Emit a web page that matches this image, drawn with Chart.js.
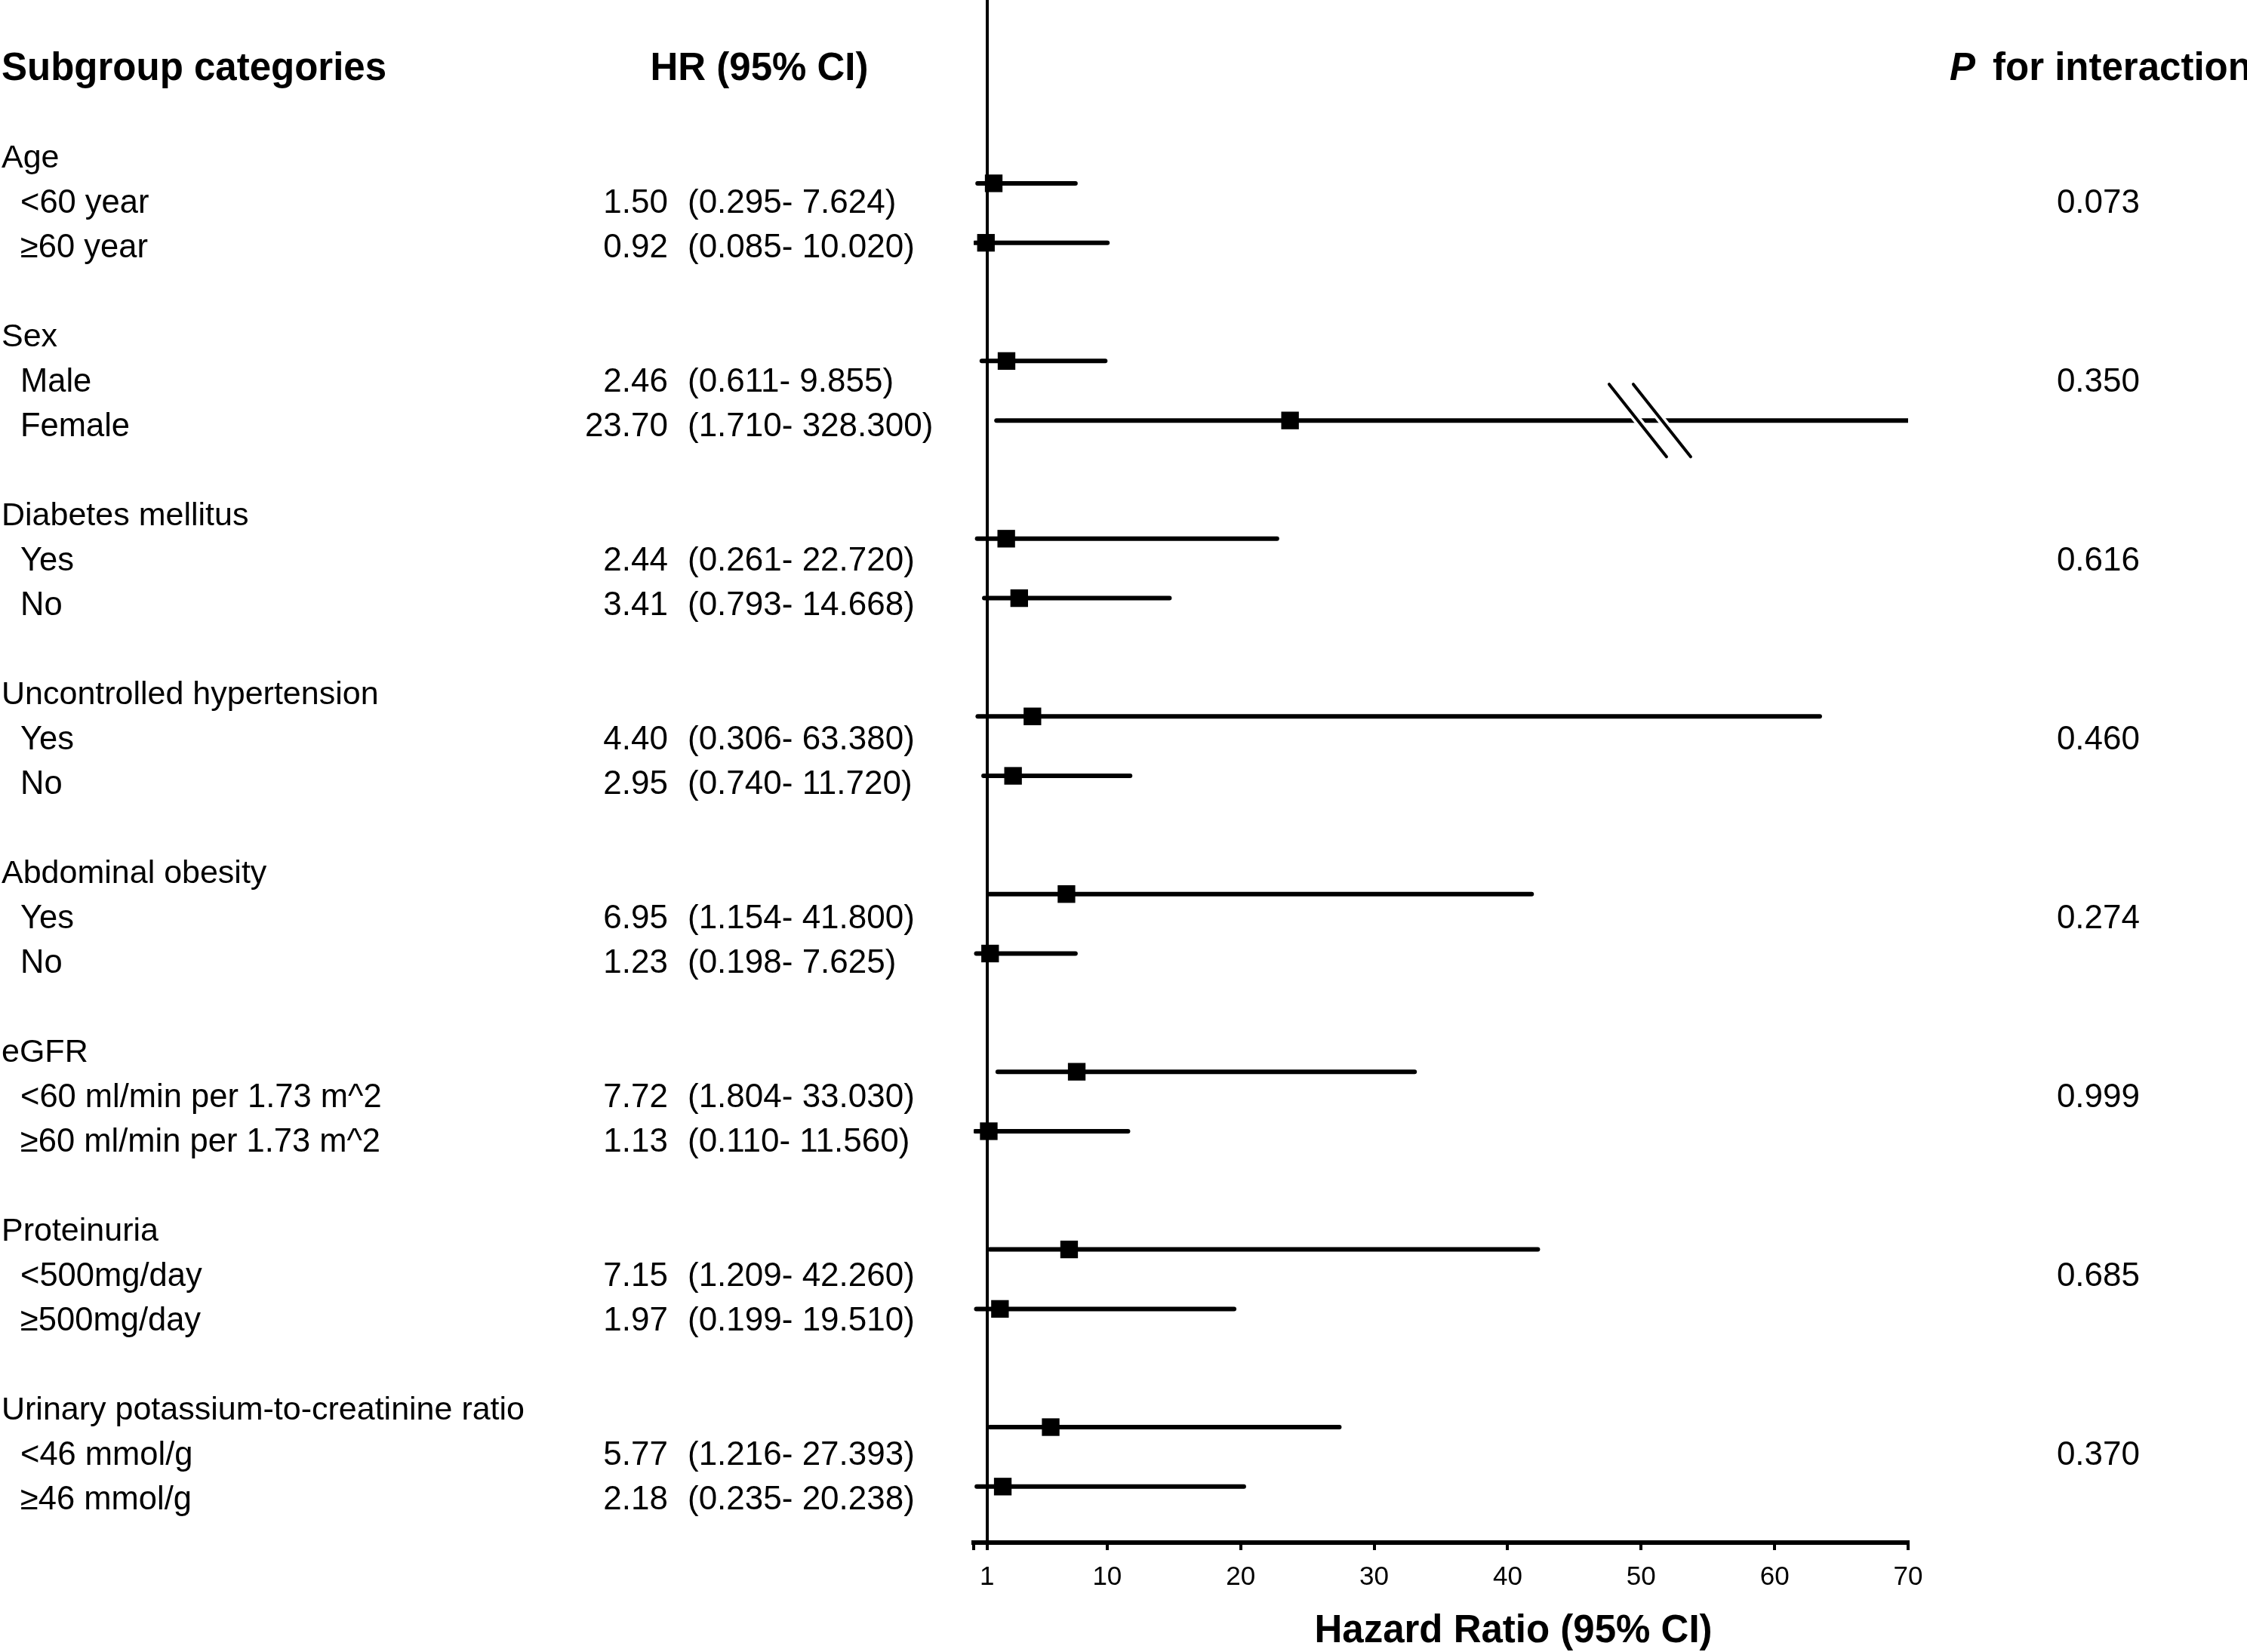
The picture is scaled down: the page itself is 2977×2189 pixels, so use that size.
<!DOCTYPE html>
<html>
<head>
<meta charset="utf-8">
<script src="https://cdn.jsdelivr.net/npm/chart.js@4.4.0/dist/chart.umd.min.js"></script>
<style>
  html, body { margin: 0; padding: 0; background: #fff; }
  #wrap { position: relative; width: 2977px; height: 2189px; }
</style>
</head>
<body>
<div id="wrap"><canvas id="forest"></canvas></div>
<script>
// data
const groups = ['Age', 'Sex', 'Diabetes mellitus', 'Uncontrolled hypertension', 'Abdominal obesity', 'eGFR', 'Proteinuria', 'Urinary potassium-to-creatinine ratio'];
const subLabels = ['<60 year', '≥60 year', 'Male', 'Female', 'Yes', 'No', 'Yes', 'No', 'Yes', 'No',
  '<60 ml/min per 1.73 m^2', '≥60 ml/min per 1.73 m^2', '<500mg/day', '≥500mg/day', '<46 mmol/g', '≥46 mmol/g'];
const hr = [1.50, 0.92, 2.46, 23.70, 2.44, 3.41, 4.40, 2.95, 6.95, 1.23, 7.72, 1.13, 7.15, 1.97, 5.77, 2.18];
const ciLow = [0.295, 0.085, 0.611, 1.710, 0.261, 0.793, 0.306, 0.740, 1.154, 0.198, 1.804, 0.110, 1.209, 0.199, 1.216, 0.235];
const ciHigh = [7.624, 10.020, 9.855, 328.300, 22.720, 14.668, 63.380, 11.720, 41.800, 7.625, 33.030, 11.560, 42.260, 19.510, 27.393, 20.238];
const pInteraction = ['0.073', '0.350', '0.616', '0.460', '0.274', '0.999', '0.685', '0.370'];
const xTicks = [0, 1, 10, 20, 30, 40, 50, 60, 70];

const xMax = 70;
const FONT = '"Liberation Sans", Arial, sans-serif';
const TEXT_DY = 3; // small nudge so text sits like the original

// row index of each subgroup (text rows) and of its marker (markers sit a bit higher)
function textRow(i) { return Math.floor(i / 2) * 4 + 1 + (i % 2); }
function markRow(i) { return Math.floor(i / 2) * 3.974 + (i % 2 == 0 ? 0.6 : 1.93); }

const datasets = [];
datasets.push({
  type: 'scatter',
  label: 'HR',
  data: hr.map((v, i) => ({ x: v, y: markRow(i) })),
  pointStyle: 'rect',
  pointRadius: 16.5,
  pointHoverRadius: 16.5,
  backgroundColor: '#000',
  borderColor: '#000',
  borderWidth: 0,
  order: 0
});
hr.forEach((v, i) => {
  datasets.push({
    type: 'line',
    label: 'CI ' + i,
    data: [{ x: ciLow[i], y: markRow(i) }, { x: Math.min(ciHigh[i], xMax), y: markRow(i) }],
    borderColor: '#000',
    borderWidth: 6,
    borderCapStyle: 'round',
    pointRadius: 0,
    fill: false,
    order: 1
  });
});

// texts of the table + axis title + break marks
const tablePlugin = {
  id: 'tablePlugin',
  afterDatasetsDraw(chart) {
    const ctx = chart.ctx;
    const xs = chart.scales.x, ys = chart.scales.y;
    // break on the Female CI (upper limit goes past 70)
    ciHigh.forEach((h, i) => {
      if (h <= xMax) return;
      const yc = ys.getPixelForValue(markRow(i));
      const xc = xs.getPixelForValue(50.66);
      [-16, 16].forEach(off => {
        ctx.save();
        ctx.lineCap = 'round';
        ctx.beginPath();
        ctx.moveTo(xc + off - 38, yc - 48);
        ctx.lineTo(xc + off + 38, yc + 48);
        ctx.strokeStyle = '#fff';
        ctx.lineWidth = 11;
        ctx.stroke();
        ctx.strokeStyle = '#000';
        ctx.lineWidth = 4;
        ctx.stroke();
        ctx.restore();
      });
    });
  },
  afterDraw(chart) {
    const ctx = chart.ctx;
    const ys = chart.scales.y;
    const rowY = r => ys.getPixelForValue(r) + TEXT_DY;
    ctx.save();
    ctx.fillStyle = '#000';
    ctx.textBaseline = 'middle';

    // headers
    const yh = rowY(-2);
    ctx.font = 'bold 51px ' + FONT;
    ctx.textAlign = 'left';
    ctx.fillText('Subgroup categories', 2, yh);
    ctx.textAlign = 'center';
    ctx.fillText('HR (95% CI)', 1006, yh);
    ctx.textAlign = 'left';
    ctx.font = 'italic bold 51px ' + FONT;
    ctx.fillText('P', 2583, yh);
    ctx.font = 'bold 51px ' + FONT;
    ctx.fillText('for interaction', 2640, yh);

    groups.forEach((g, k) => {
      ctx.font = '43px ' + FONT;
      ctx.textAlign = 'left';
      ctx.fillText(g, 2, rowY(k * 4));
      ctx.font = '44px ' + FONT;
      ctx.textAlign = 'right';
      ctx.fillText(pInteraction[k], 2835, rowY(k * 4 + 1));
    });
    subLabels.forEach((s, i) => {
      const y = rowY(textRow(i));
      ctx.font = '43.5px ' + FONT;
      ctx.textAlign = 'left';
      ctx.fillText(s, 27, y);
      ctx.font = '44px ' + FONT;
      ctx.textAlign = 'right';
      ctx.fillText(hr[i].toFixed(2), 885, y);
      ctx.textAlign = 'left';
      ctx.fillText('(' + ciLow[i].toFixed(3) + '- ' + ciHigh[i].toFixed(3) + ')', 911, y);
    });

    // x axis title
    ctx.font = 'bold 51px ' + FONT;
    ctx.textAlign = 'center';
    ctx.fillText('Hazard Ratio (95% CI)', 2005, 2162);
    ctx.restore();
  }
};

new Chart(document.getElementById('forest'), {
  type: 'scatter',
  data: { datasets: datasets },
  options: {
    responsive: true,
    maintainAspectRatio: false,
    animation: false,
    layout: { autoPadding: false, padding: { left: 1290, right: 449, top: 0, bottom: 63 } },
    plugins: { legend: { display: false }, tooltip: { enabled: false } },
    scales: {
      x: {
        type: 'linear',
        position: 'bottom',
        min: 0,
        max: xMax,
        afterBuildTicks: axis => { axis.ticks = xTicks.map(v => ({ value: v })); },
        ticks: {
          autoSkip: false,
          maxRotation: 0,
          padding: 15,
          color: '#000',
          font: { family: FONT, size: 35 },
          callback: v => (v === 0 ? '' : v)
        },
        grid: { display: true, drawOnChartArea: false, drawTicks: true, tickLength: 10, color: '#000', lineWidth: 4 },
        border: { display: true, color: '#000', width: 6 }
      },
      y: {
        type: 'linear',
        position: { x: 1 },
        reverse: true,
        min: -3.5,
        max: 31,
        ticks: { display: false },
        grid: { display: false, drawTicks: false },
        border: { display: true, color: '#000', width: 4 }
      }
    }
  },
  plugins: [tablePlugin]
});
</script>
</body>
</html>
